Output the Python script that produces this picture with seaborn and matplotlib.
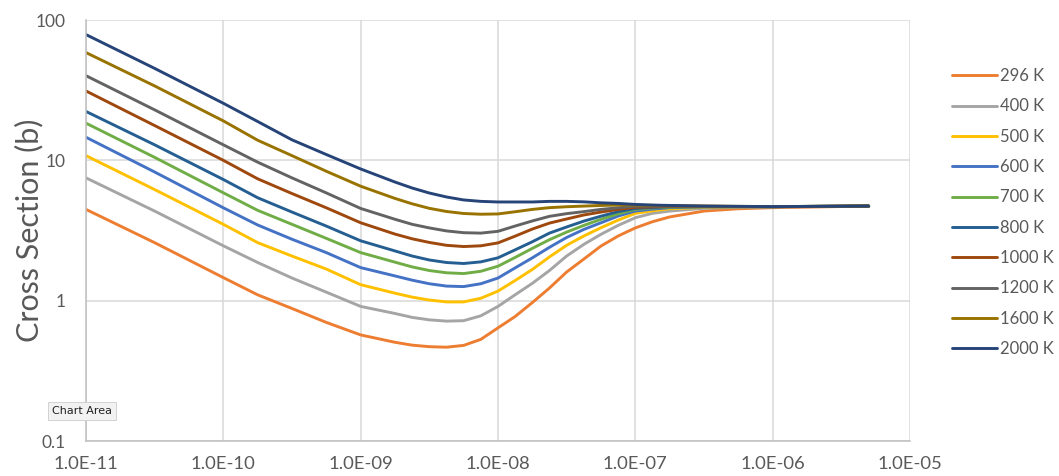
import numpy as np
import pandas as pd
import matplotlib
matplotlib.use("Agg")
import matplotlib.pyplot as plt
from matplotlib.ticker import FuncFormatter, FixedLocator, LogLocator, NullFormatter
import seaborn as sns

# Energy (x values)
energy = [1e-11, 3.16e-11, 1e-10, 1.78e-10, 3.16e-10, 5.62e-10, 1e-9,
          1.78e-9, 2.37e-9, 3.16e-9, 4.22e-9, 5.62e-9, 7.5e-9, 1e-8,
          1.33e-8, 1.78e-8, 2.37e-8, 3.16e-8, 4.22e-8, 5.62e-8, 7.5e-8, 1e-7,
          1.33e-7, 1.78e-7, 3.16e-7, 5.62e-7, 1e-6, 5e-6]

temps = ["296 K", "400 K", "500 K", "600 K", "700 K", "800 K",
         "1000 K", "1200 K", "1600 K", "2000 K"]

cs_296 = [4.47, 2.59, 1.46, 1.10, 0.88, 0.70, 0.57, 0.505, 0.482, 0.47, 0.466, 0.48, 0.53, 0.64,
          0.77, 0.97, 1.23, 1.6, 1.98, 2.45, 2.89, 3.3, 3.65, 3.95, 4.35, 4.52, 4.6, 4.72]
cs_400 = [7.5, 4.35, 2.46, 1.87, 1.45, 1.15, 0.91, 0.81, 0.76, 0.73, 0.715, 0.72, 0.78, 0.91,
          1.1, 1.33, 1.64, 2.08, 2.52, 2.97, 3.44, 3.9, 4.19, 4.35, 4.55, 4.63, 4.66, 4.72]
cs_500 = [10.8, 6.19, 3.5, 2.59, 2.08, 1.68, 1.3, 1.13, 1.06, 1.01, 0.98, 0.98, 1.04, 1.17,
          1.39, 1.67, 2.05, 2.48, 2.89, 3.31, 3.75, 4.19, 4.37, 4.52, 4.62, 4.66, 4.67, 4.72]
cs_600 = [14.6, 8.26, 4.59, 3.46, 2.74, 2.2, 1.72, 1.5, 1.4, 1.32, 1.27, 1.26, 1.32, 1.45,
          1.71, 2.02, 2.4, 2.82, 3.22, 3.59, 4.01, 4.35, 4.49, 4.6, 4.66, 4.67, 4.67, 4.72]
cs_700 = [18.4, 10.5, 5.87, 4.4, 3.5, 2.78, 2.2, 1.88, 1.74, 1.64, 1.58, 1.56, 1.62, 1.76,
          2.03, 2.36, 2.72, 3.08, 3.44, 3.8, 4.16, 4.47, 4.58, 4.64, 4.67, 4.68, 4.68, 4.72]
cs_800 = [22.3, 12.9, 7.3, 5.41, 4.28, 3.4, 2.67, 2.26, 2.08, 1.95, 1.87, 1.84, 1.89, 2.02,
          2.3, 2.63, 3.03, 3.35, 3.69, 4.0, 4.31, 4.54, 4.61, 4.67, 4.68, 4.68, 4.68, 4.72]
cs_1000 = [31.2, 17.7, 10.0, 7.38, 5.8, 4.59, 3.59, 2.98, 2.76, 2.6, 2.48, 2.43, 2.46, 2.58,
           2.88, 3.24, 3.57, 3.82, 4.08, 4.28, 4.47, 4.63, 4.66, 4.7, 4.7, 4.69, 4.68, 4.72]
cs_1200 = [40.1, 22.9, 12.9, 9.7, 7.5, 5.86, 4.54, 3.8, 3.5, 3.3, 3.14, 3.05, 3.03, 3.12,
           3.4, 3.7, 3.99, 4.17, 4.31, 4.47, 4.59, 4.72, 4.72, 4.72, 4.7, 4.69, 4.68, 4.72]
cs_1600 = [58.6, 33.9, 19.1, 13.9, 10.8, 8.36, 6.54, 5.35, 4.9, 4.55, 4.32, 4.18, 4.13, 4.15,
           4.3, 4.47, 4.6, 4.67, 4.72, 4.77, 4.8, 4.8, 4.78, 4.75, 4.72, 4.7, 4.68, 4.72]
cs_2000 = [78.7, 45.2, 25.5, 18.9, 14.0, 11.0, 8.68, 7.0, 6.35, 5.85, 5.48, 5.22, 5.1, 5.05,
           5.05, 5.05, 5.1, 5.1, 5.06, 4.98, 4.93, 4.85, 4.8, 4.77, 4.72, 4.7, 4.68, 4.72]

series = [cs_296, cs_400, cs_500, cs_600, cs_700, cs_800, cs_1000, cs_1200, cs_1600, cs_2000]

colors = ["#ED7D31", "#A5A5A5", "#FFC000", "#4472C4", "#70AD47",
          "#255E91", "#9E480E", "#636363", "#997300", "#264478"]

x_ticks = [1e-11, 1e-10, 1e-9, 1e-8, 1e-7, 1e-6, 1e-5]
y_ticks = [0.1, 1, 10, 100]

rows = []
for t, vals in zip(temps, series):
    for e, v in zip(energy, vals):
        rows.append({"Energy": e, "Cross Section": v, "Temp": t})
df = pd.DataFrame(rows)

sns.set_style("white")
plt.rcParams["font.family"] = ["Lato", "DejaVu Sans"]

fig = plt.figure(figsize=(10.59, 4.76), dpi=100)
ax = fig.add_axes([86/1059, 1-441/476, (910-86)/1059, (441-20)/476])

sns.lineplot(data=df, x="Energy", y="Cross Section", hue="Temp",
             palette=dict(zip(temps, colors)), hue_order=temps,
             estimator=None, sort=False, linewidth=2.1, ax=ax)
for ln in ax.get_lines():
    ln.set_solid_joinstyle("round")
    ln.set_solid_capstyle("round")

ax.set_xscale("log")
ax.set_yscale("log")
ax.set_xlim(1e-11, 1e-5)
ax.set_ylim(0.1, 100)

ax.xaxis.set_major_locator(FixedLocator(x_ticks))
ax.yaxis.set_major_locator(FixedLocator(y_ticks))
ax.xaxis.set_minor_locator(LogLocator(base=10, subs=np.arange(2, 10), numticks=100))
ax.yaxis.set_minor_locator(LogLocator(base=10, subs=np.arange(2, 10), numticks=100))
ax.xaxis.set_minor_formatter(NullFormatter())
ax.yaxis.set_minor_formatter(NullFormatter())
ax.xaxis.set_major_formatter(FuncFormatter(lambda v, p: f"{v:.1E}"))
ax.yaxis.set_major_formatter(FuncFormatter(lambda v, p: f"{v:g}"))

ax.grid(True, which="major", color="#d9d9d9", linewidth=1.1)
ax.set_axisbelow(True)
for s in ["top", "right"]:
    ax.spines[s].set_visible(False)
for s in ["left", "bottom"]:
    ax.spines[s].set_color("#bfbfbf")
    ax.spines[s].set_linewidth(1.1)

ax.tick_params(axis="both", which="major", length=0, colors="#595959")
ax.tick_params(axis="x", which="major", labelsize=13.3, pad=11)
ax.tick_params(axis="y", which="major", labelsize=12.5, pad=15)
ax.tick_params(axis="both", which="minor", direction="in", length=4,
               width=1, color="#bfbfbf")

ax.set_xlabel("")
ax.set_ylabel("Cross Section (b)", fontsize=22, color="#595959")
ax.yaxis.set_label_coords(-0.052, 0.5)

handles, labels = ax.get_legend_handles_labels()
ax.legend(handles, labels, loc="upper left", bbox_to_anchor=(937/1059, 1-53/476),
          bbox_transform=fig.transFigure, frameon=False, fontsize=12,
          handlelength=2.7, handletextpad=0.15, labelspacing=0.86,
          labelcolor="#595959")
for ln in ax.get_legend().get_lines():
    ln.set_linewidth(2.1)

fig.text(52/1059, 1-411/476, "Chart Area", fontsize=8, color="#222222",
         va="center", ha="left", family=["DejaVu Sans"],
         bbox=dict(boxstyle="square,pad=0.4", facecolor="#f2f2f2",
                   edgecolor="#cccccc", linewidth=0.6))

fig.savefig("out.png", dpi=100)
